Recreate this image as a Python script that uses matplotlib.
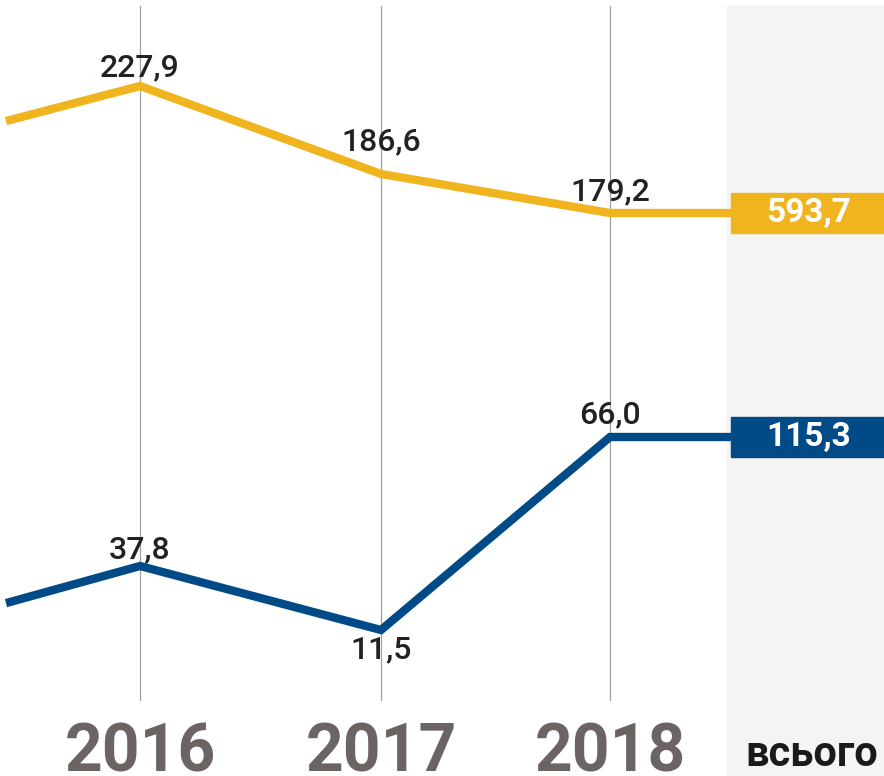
import matplotlib.pyplot as plt
from matplotlib.patches import Rectangle

years = ['2016', '2017', '2018']
yellow_vals = ['227,9', '186,6', '179,2']
blue_vals = ['37,8', '11,5', '66,0']
yellow_total = '593,7'
blue_total = '115,3'
total_label = 'всього'

# line positions (chart units, y grows downward)
x_pos = [10, 140, 381, 610, 727]
yellow_level = [120, 86, 174, 213, 213]
blue_level = [602, 566, 630, 437, 437]

YELLOW = '#f0b41e'
BLUE = '#004a87'
GREY_TXT = '#6b6462'

fig = plt.figure(figsize=(8.84, 7.76), dpi=100)
ax = fig.add_axes([0, 0, 1, 1])
ax.set_xlim(0, 884)
ax.set_ylim(776, 0)
ax.axis('off')

# grey "total" column
ax.add_patch(Rectangle((727, 5), 157, 771, color='#f4f4f4', zorder=0))

# vertical year lines
for x in x_pos[1:4]:
    ax.plot([x, x], [6, 700], color='#a0a0a0', lw=0.9, zorder=1)

ax.plot(x_pos, yellow_level, color=YELLOW, lw=6, solid_joinstyle='miter', zorder=2)
ax.plot(x_pos, blue_level, color=BLUE, lw=6, solid_joinstyle='miter', zorder=2)

lbl = dict(fontfamily='Roboto', fontweight='medium', fontsize=23, color='#222222',
           ha='center', va='center', zorder=3)
yl_off = [-18, -32, -21]
for x, v, y, d in zip(x_pos[1:4], yellow_vals, yellow_level[1:4], yl_off):
    ax.text(x, y + d, v, **lbl)
bl_off = [-16, 20, -22]
for x, v, y, d in zip(x_pos[1:4], blue_vals, blue_level[1:4], bl_off):
    ax.text(x, y + d, v, **lbl)

for x, yr in zip(x_pos[1:4], years):
    ax.text(x, 771, yr, fontfamily='Roboto', fontweight='bold', fontsize=47.5,
            color=GREY_TXT, ha='center', va='baseline')

ax.text(812, 766, total_label, fontfamily='Roboto', fontweight='bold', fontsize=30,
        color='#1a1a1a', ha='center', va='baseline')

# total boxes
for lev, val, col in [(yellow_level[-1], yellow_total, YELLOW), (blue_level[-1], blue_total, BLUE)]:
    ax.add_patch(Rectangle((731, lev - 20), 153, 40, color=col, zorder=2))
    ax.text(809, lev, val, fontfamily='Roboto', fontweight='bold', fontsize=24,
            color='white', ha='center', va='center', zorder=3)

fig.savefig('out.png', dpi=100)
